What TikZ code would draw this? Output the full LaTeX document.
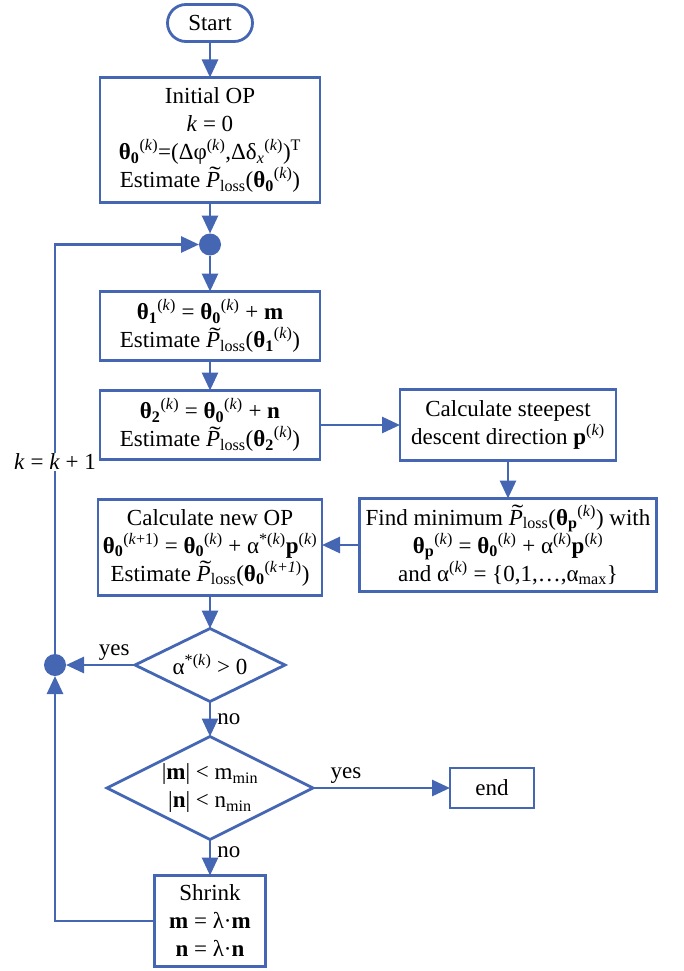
\documentclass[tikz,border=0pt]{standalone}
\usepackage{fontspec}
\setmainfont{Liberation Serif}
\usetikzlibrary{arrows.meta, positioning, shapes.geometric, shapes.misc}
\definecolor{flow}{HTML}{4466B3}
\newcommand{\supk}{\textsuperscript{(\textit{k})}}
\newcommand{\thb}[1]{\textbf{θ\textsubscript{#1}}}
\newcommand{\tildeP}{\rlap{\hspace{0.14em}\raisebox{0.2em}{\scalebox{1.5}[1]{˜}}}\textit{P}}
\newcommand{\Ploss}{\tildeP\textsubscript{loss}}

\begin{document}
\begin{tikzpicture}[
  x=1pt, y=1pt,
  every node/.style={font=\fontsize{23}{28}\selectfont},
  box/.style={draw=flow, line width=2.8pt, fill=white, align=center,
              inner sep=1pt, outer sep=0pt},
  term/.style={draw=flow, line width=2.8pt, rounded rectangle,
               minimum width=85pt, minimum height=37pt, inner sep=0pt, outer sep=0pt},
  dec/.style={draw=flow, line width=2.8pt, diamond, aspect=2,
              inner sep=0pt, outer sep=0pt, align=center},
  dot/.style={circle, fill=flow, minimum size=22pt, inner sep=0pt, outer sep=0pt},
  arr/.style={-{Triangle[length=18pt, width=16pt]}, draw=flow, line width=2.8pt}
]
  \useasboundingbox (0,0) rectangle (684,-971);

  % Main column
  \node[term] (start) at (210,-23) {Start};
  \node[box, minimum width=220pt, minimum height=125pt, below=36pt of start]
    (init) {Initial OP\\ \textit{k} = 0\\
            \thb{0}\supk=(Δφ\supk,Δδ\textsubscript{\textit{x}}\supk)\textsuperscript{T}\\
            Estimate \Ploss(\thb{0}\supk)};
  \node[dot, below=31pt of init] (dot1) {};
  \node[box, minimum width=220pt, minimum height=69pt, below=36pt of dot1]
    (calc1) {\thb{1}\supk{} = \thb{0}\supk{} + \textbf{m}\\
             Estimate \Ploss(\thb{1}\supk)};
  \node[box, minimum width=220pt, minimum height=69pt, below=30pt of calc1]
    (calc2) {\thb{2}\supk{} = \thb{0}\supk{} + \textbf{n}\\
             Estimate \Ploss(\thb{2}\supk)};

  % Line search
  \node[box, minimum width=216pt, minimum height=71pt, right=80pt of calc2]
    (steep) {Calculate steepest\\ descent direction \textbf{p}\supk};
  \node[box, minimum width=297pt, minimum height=93pt, below=38pt of steep]
    (findmin) {Find minimum \Ploss(\thb{p}\supk) with\\
               \thb{p}\supk{} = \thb{0}\supk{} + α\supk\textbf{p}\supk\\
               and α\supk{} = \{0,1,…,α\textsubscript{max}\}};
  \node[box, minimum width=224pt, minimum height=96pt, below=40pt of calc2]
    (newop) {Calculate new OP\\
             \thb{0}\textsuperscript{(\textit{k}+1)} = \thb{0}\supk{} + α\textsuperscript{*(\textit{k})}\textbf{p}\supk\\
             Estimate \Ploss(\thb{0}\textsuperscript{(\textit{k+1})})};

  % Decisions
  \node[dec, minimum width=150pt, minimum height=73pt, below=33pt of newop]
    (chk1) {α\textsuperscript{*(\textit{k})} > 0};
  \node[dot, left=69pt of chk1] (dot2) {};
  \node[dec, minimum width=206pt, minimum height=103pt, below=35pt of chk1]
    (chk2) {|\textbf{m}| < m\textsubscript{min}\\ |\textbf{n}| < n\textsubscript{min}};
  \node[box, minimum width=84pt, minimum height=40pt, right=137pt of chk2] (stop) {end};
  \node[box, minimum width=111pt, minimum height=91pt, below=36pt of chk2]
    (shrink) {Shrink\\ \textbf{m} = λ·\textbf{m}\\ \textbf{n} = λ·\textbf{n}};

  \coordinate (turn) at (dot2 |- dot1);

  \draw[arr] (start.south) -- (init.north);
  \draw[arr] (init.south) -- (dot1.north);
  \draw[arr] (dot1.south) -- (calc1.north);
  \draw[arr] (calc1.south) -- (calc2.north);
  \draw[arr] (calc2.east) -- (steep.west);
  \draw[arr] (steep.south) -- (findmin.north);
  \draw[arr] (findmin.west) -- (findmin.west -| newop.east);
  \draw[arr] (newop.south) -- (chk1.north);
  \draw[arr] (chk1.west) -- node[above, pos=0.3] {yes} (dot2.east);
  \draw[arr] (chk1.south) -- node[right, pos=0.5, inner sep=6pt] {no} (chk2.north);
  \draw[arr] (chk2.east) -- node[above, pos=0.24] {yes} (stop.west);
  \draw[arr] (chk2.south) -- node[right, pos=0.35, inner sep=6pt] {no} (shrink.north);
  \draw[arr] (shrink.west) -| (dot2.south);
  \draw[arr] (dot2.north) -- node[fill=white, pos=0.47, inner sep=1pt]
    {\textit{k} = \textit{k} + 1} (turn) -- (dot1.west);
\end{tikzpicture}
\end{document}
